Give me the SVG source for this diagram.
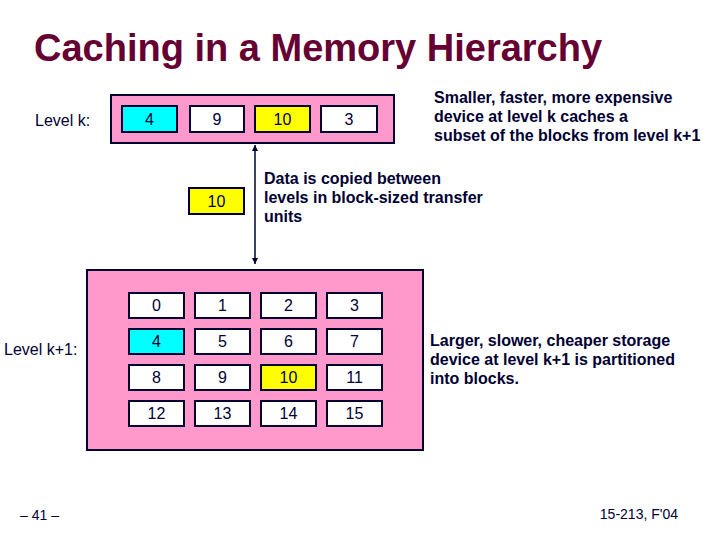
<svg xmlns="http://www.w3.org/2000/svg" width="720" height="540" viewBox="0 0 720 540">
<defs>
<style>
.t{font-family:"Liberation Sans",Arial,sans-serif;fill:#000033}
.title{font-family:"Liberation Sans",Arial,sans-serif;font-size:38px;font-weight:bold;fill:#660033}
.lab{font-size:16px}
.desc{font-size:16px;font-weight:bold}
.num{font-size:16px;text-anchor:middle}
.foot{font-family:"Liberation Sans Narrow","Liberation Sans",Arial,sans-serif;font-size:14px;fill:#000033}
.box{fill:#FF99CC;stroke:#000033;stroke-width:2}
.cell{fill:#FFFFFF;stroke:#000033;stroke-width:2}
.cy{fill:#00FFFF}
.ye{fill:#FFFF00}
</style>
<marker id="ah" viewBox="0 0 10 10" refX="10" refY="5" markerWidth="6" markerHeight="6" orient="auto-start-reverse" markerUnits="userSpaceOnUse">
<path d="M0,0 L10,5 L0,10 z" fill="#000033"/>
</marker>
</defs>
<rect width="720" height="540" fill="#FFFFFF"/>
<text class="title" x="34" y="61">Caching in a Memory Hierarchy</text>

<g id="levelk">
<text class="t lab" x="35" y="126">Level k:</text>
<rect class="box" x="111" y="95" width="283" height="48"/>
<g id="k4"><rect class="cell cy" x="122" y="106" width="55" height="26"/><text class="t num" x="149.5" y="125">4</text></g>
<g id="k9"><rect class="cell" x="190" y="106" width="54" height="26"/><text class="t num" x="217" y="125">9</text></g>
<g id="k10"><rect class="cell ye" x="255" y="106" width="55" height="26"/><text class="t num" x="282.5" y="125">10</text></g>
<g id="k3"><rect class="cell" x="321" y="106" width="56" height="26"/><text class="t num" x="349" y="125">3</text></g>
</g>

<g id="transfer">
<rect class="cell ye" x="189" y="188" width="55" height="26"/><text class="t num" x="216.5" y="207">10</text>
</g>

<g id="connectors">
<line x1="255" y1="145" x2="255" y2="264" stroke="#000033" stroke-width="1.5" marker-start="url(#ah)" marker-end="url(#ah)"/>
</g>

<g id="levelk1">
<text class="t lab" x="4" y="355">Level k+1:</text>
<rect class="box" x="87" y="270" width="336" height="180"/>
<g id="b0"><rect class="cell" x="129" y="293" width="55" height="25"/><text class="t num" x="156.5" y="311">0</text></g>
<g id="b1"><rect class="cell" x="195" y="293" width="55" height="25"/><text class="t num" x="222.5" y="311">1</text></g>
<g id="b2"><rect class="cell" x="261" y="293" width="55" height="25"/><text class="t num" x="288.5" y="311">2</text></g>
<g id="b3"><rect class="cell" x="327" y="293" width="55" height="25"/><text class="t num" x="354.5" y="311">3</text></g>
<g id="b4"><rect class="cell cy" x="129" y="329" width="55" height="25"/><text class="t num" x="156.5" y="347">4</text></g>
<g id="b5"><rect class="cell" x="195" y="329" width="55" height="25"/><text class="t num" x="222.5" y="347">5</text></g>
<g id="b6"><rect class="cell" x="261" y="329" width="55" height="25"/><text class="t num" x="288.5" y="347">6</text></g>
<g id="b7"><rect class="cell" x="327" y="329" width="55" height="25"/><text class="t num" x="354.5" y="347">7</text></g>
<g id="b8"><rect class="cell" x="129" y="365" width="55" height="25"/><text class="t num" x="156.5" y="383">8</text></g>
<g id="b9"><rect class="cell" x="195" y="365" width="55" height="25"/><text class="t num" x="222.5" y="383">9</text></g>
<g id="b10"><rect class="cell ye" x="261" y="365" width="55" height="25"/><text class="t num" x="288.5" y="383">10</text></g>
<g id="b11"><rect class="cell" x="327" y="365" width="55" height="25"/><text class="t num" x="354.5" y="383">11</text></g>
<g id="b12"><rect class="cell" x="129" y="401" width="55" height="25"/><text class="t num" x="156.5" y="419">12</text></g>
<g id="b13"><rect class="cell" x="195" y="401" width="55" height="25"/><text class="t num" x="222.5" y="419">13</text></g>
<g id="b14"><rect class="cell" x="261" y="401" width="55" height="25"/><text class="t num" x="288.5" y="419">14</text></g>
<g id="b15"><rect class="cell" x="327" y="401" width="55" height="25"/><text class="t num" x="354.5" y="419">15</text></g>
</g>

<text class="t desc" x="434" y="103">Smaller, faster, more expensive</text>
<text class="t desc" x="434" y="122">device at level k caches a</text>
<text class="t desc" x="434" y="141">subset of the blocks from level k+1</text>

<text class="t desc" x="264" y="184">Data is copied between</text>
<text class="t desc" x="264" y="203">levels in block-sized transfer</text>
<text class="t desc" x="264" y="222">units</text>

<text class="t desc" x="430" y="346">Larger, slower, cheaper storage</text>
<text class="t desc" x="430" y="365">device at level k+1 is partitioned</text>
<text class="t desc" x="430" y="384">into blocks.</text>

<text class="foot" x="20" y="520">– 41 –</text>
<text class="foot" x="678" y="519" text-anchor="end">15-213, F'04</text>
</svg>
